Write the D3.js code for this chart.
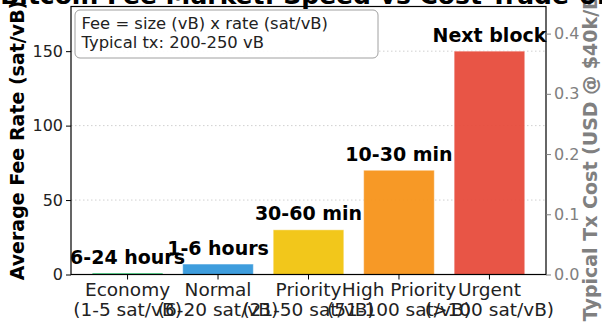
<!DOCTYPE html>
<html>
<head>
<meta charset="utf-8">
<script src="https://cdn.jsdelivr.net/npm/d3@7"></script>
<style>
  html, body { margin: 0; padding: 0; background: #fff; }
  svg { display: block; font-family: "DejaVu Sans", sans-serif; }
</style>
</head>
<body>
<svg id="chart" width="602" height="322"></svg>
<script>
// ---- data ----
const categories = ["Economy", "Normal", "Priority", "High Priority", "Urgent"];
const rateRanges = ["(1-5 sat/vB)", "(6-20 sat/vB)", "(21-50 sat/vB)", "(51-100 sat/vB)", "(>100 sat/vB)"];
const feeRates = [1, 7, 30, 70, 150];
const timeLabels = ["6-24 hours", "1-6 hours", "30-60 min", "10-30 min", "Next block"];
const barColors = ["#2ecc71", "#3498db", "#f1c40f", "#f7931a", "#e74c3c"];
const leftTicks = [0, 50, 100, 150];
const rightTicks = [0, 0.1, 0.2, 0.3, 0.4];
const leftMax = 180;
const rightMax = 0.445;
const titleText = "Bitcoin Fee Market: Speed vs Cost Trade-off";
const yLabel = "Average Fee Rate (sat/vB)";
const y2Label = "Typical Tx Cost (USD @ $40k/BTC)";
const noteLines = ["Fee = size (vB) x rate (sat/vB)", "Typical tx: 200-250 vB"];

// ---- layout ----
const L = 71, R = 546, T = 6.5, B = 274.5;
const svg = d3.select("#chart");

const x = d3.scaleBand().domain(categories).range([L, R]).paddingInner(0.22).paddingOuter(0.235);
const y = d3.scaleLinear().domain([0, leftMax]).range([B, T]);
const y2 = d3.scaleLinear().domain([0, rightMax]).range([B, T]);

// grid
svg.append("g").selectAll("line").data(leftTicks.filter(d => d > 0)).join("line")
  .attr("x1", L).attr("x2", R)
  .attr("y1", d => y(d)).attr("y2", d => y(d))
  .attr("stroke", "#b0b0b0").attr("stroke-opacity", 0.6)
  .attr("stroke-width", 1).attr("stroke-dasharray", "1.5,2.5");

// bars
svg.append("g").selectAll("rect").data(categories).join("rect")
  .attr("x", d => x(d))
  .attr("width", x.bandwidth())
  .attr("y", (d, i) => y(feeRates[i]))
  .attr("height", (d, i) => B - y(feeRates[i]))
  .attr("fill", (d, i) => barColors[i])
  .attr("fill-opacity", 0.95)
  .attr("stroke", "#fff").attr("stroke-opacity", 0.4).attr("stroke-width", 1);

// bar labels
svg.append("g").selectAll("text").data(categories).join("text")
  .attr("x", d => x(d) + x.bandwidth() / 2)
  .attr("y", (d, i) => y(feeRates[i]) - 9.5)
  .attr("text-anchor", "middle")
  .attr("font-size", 19).attr("font-weight", "bold").attr("fill", "#000")
  .text((d, i) => timeLabels[i]);

// frame
svg.append("rect").attr("x", L).attr("y", T).attr("width", R - L).attr("height", B - T)
  .attr("fill", "none").attr("stroke", "#000").attr("stroke-width", 1.2);

// left axis
const gl = svg.append("g").attr("transform", `translate(${L},0)`)
  .call(d3.axisLeft(y).tickValues(leftTicks).tickSize(5).tickPadding(3));
gl.select(".domain").remove();
gl.selectAll("text").attr("font-size", 16).attr("font-family", "DejaVu Sans").attr("fill", "#222");
gl.selectAll("line").attr("stroke", "#000");

// right axis
const gr = svg.append("g").attr("transform", `translate(${R},0)`)
  .call(d3.axisRight(y2).tickValues(rightTicks).tickFormat(d3.format(".1f")).tickSize(5).tickPadding(3));
gr.select(".domain").remove();
gr.selectAll("text").attr("font-size", 16).attr("font-family", "DejaVu Sans").attr("fill", "#808080");
gr.selectAll("line").attr("stroke", "#808080");

// bottom axis
const gb = svg.append("g").attr("transform", `translate(0,${B})`)
  .call(d3.axisBottom(x).tickSize(5).tickFormat(""));
gb.select(".domain").remove();
gb.selectAll("line").attr("stroke", "#000");
const xl = svg.append("g").selectAll("text").data(categories).join("text")
  .attr("text-anchor", "middle")
  .attr("font-size", 18.5).attr("fill", "#222");
xl.append("tspan").attr("x", d => x(d) + x.bandwidth() / 2).attr("y", 296).text(d => d);
xl.append("tspan").attr("x", d => x(d) + x.bandwidth() / 2).attr("y", 315.5).text((d, i) => rateRanges[i]);

// axis titles
svg.append("text")
  .attr("transform", `translate(24,${(T + B) / 2}) rotate(-90)`)
  .attr("text-anchor", "middle").attr("font-size", 19).attr("font-weight", "bold").attr("fill", "#000")
  .text(yLabel);
svg.append("text")
  .attr("transform", `translate(597,${(T + B) / 2}) rotate(-90)`)
  .attr("text-anchor", "middle").attr("font-size", 19).attr("font-weight", "bold").attr("fill", "#808080")
  .text(y2Label);

// title
svg.append("text").attr("x", (L + R) / 2).attr("y", 4)
  .attr("text-anchor", "middle").attr("font-size", 25).attr("font-weight", "bold").attr("fill", "#000")
  .text(titleText);

// note box
svg.append("rect").attr("x", 75).attr("y", 10).attr("width", 303).attr("height", 48)
  .attr("rx", 5).attr("ry", 5)
  .attr("fill", "#fff").attr("fill-opacity", 0.9)
  .attr("stroke", "#a0a0a0").attr("stroke-width", 1);
svg.append("g").selectAll("text").data(noteLines).join("text")
  .attr("x", 81.5).attr("y", (d, i) => 28.5 + i * 19.5)
  .attr("font-size", 16.4).attr("fill", "#222")
  .text(d => d);
</script>
</body>
</html>
